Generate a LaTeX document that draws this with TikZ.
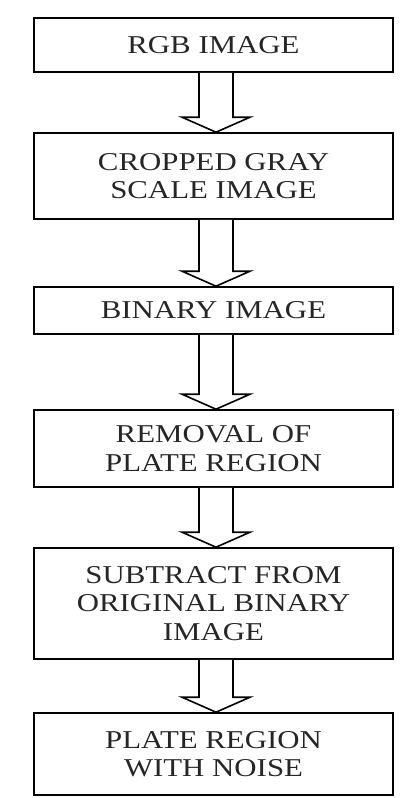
\documentclass[tikz,border=0pt]{standalone}
\usepackage{fontspec}
\newfontfamily\boxfont[FakeStretch=1.2]{Liberation Serif}
\usetikzlibrary{calc}
\tikzset{
  stage/.style={draw, line width=1.6pt, minimum width=359pt, inner sep=0pt,
    align=center, text=black!85, font=\boxfont\fontsize{25.7}{28.5}\selectfont},
  blockarrow/.style={draw, line width=1.6pt, line join=miter, fill=white}
}
\newcommand{\flowarrow}[2]{%
\draw[blockarrow] let \p1=(#1.south), \p2=(#2.north) in
  (\x1-14.5pt,\y1) -- (\x1-14.5pt,\y2+15pt) -- (\x1-31.5pt,\y2+15pt) -- (\x1+2.5pt,\y2)
  -- (\x1+36.5pt,\y2+15pt) -- (\x1+19.5pt,\y2+15pt) -- (\x1+19.5pt,\y1);}
\begin{document}
\begin{tikzpicture}[x=1pt,y=-1pt]
\useasboundingbox (0,0) rectangle (407,798);
\node[stage, minimum height=54pt] (rgb) at (213.5,45){RGB IMAGE};
\node[stage, minimum height=86pt] (gray) at (213.5,176){CROPPED GRAY\\SCALE IMAGE};
\node[stage, minimum height=47pt] (bin) at (213.5,310.5){BINARY IMAGE};
\node[stage, minimum height=77pt] (rem) at (213.5,448.5){REMOVAL OF\\PLATE REGION};
\node[stage, minimum height=111pt] (sub) at (213.5,603.5){SUBTRACT FROM\\ORIGINAL BINARY\\IMAGE};
\node[stage, minimum height=82pt] (noise) at (213.5,754){PLATE REGION\\WITH NOISE};
\flowarrow{rgb}{gray}
\flowarrow{gray}{bin}
\flowarrow{bin}{rem}
\flowarrow{rem}{sub}
\flowarrow{sub}{noise}
\end{tikzpicture}
\end{document}
